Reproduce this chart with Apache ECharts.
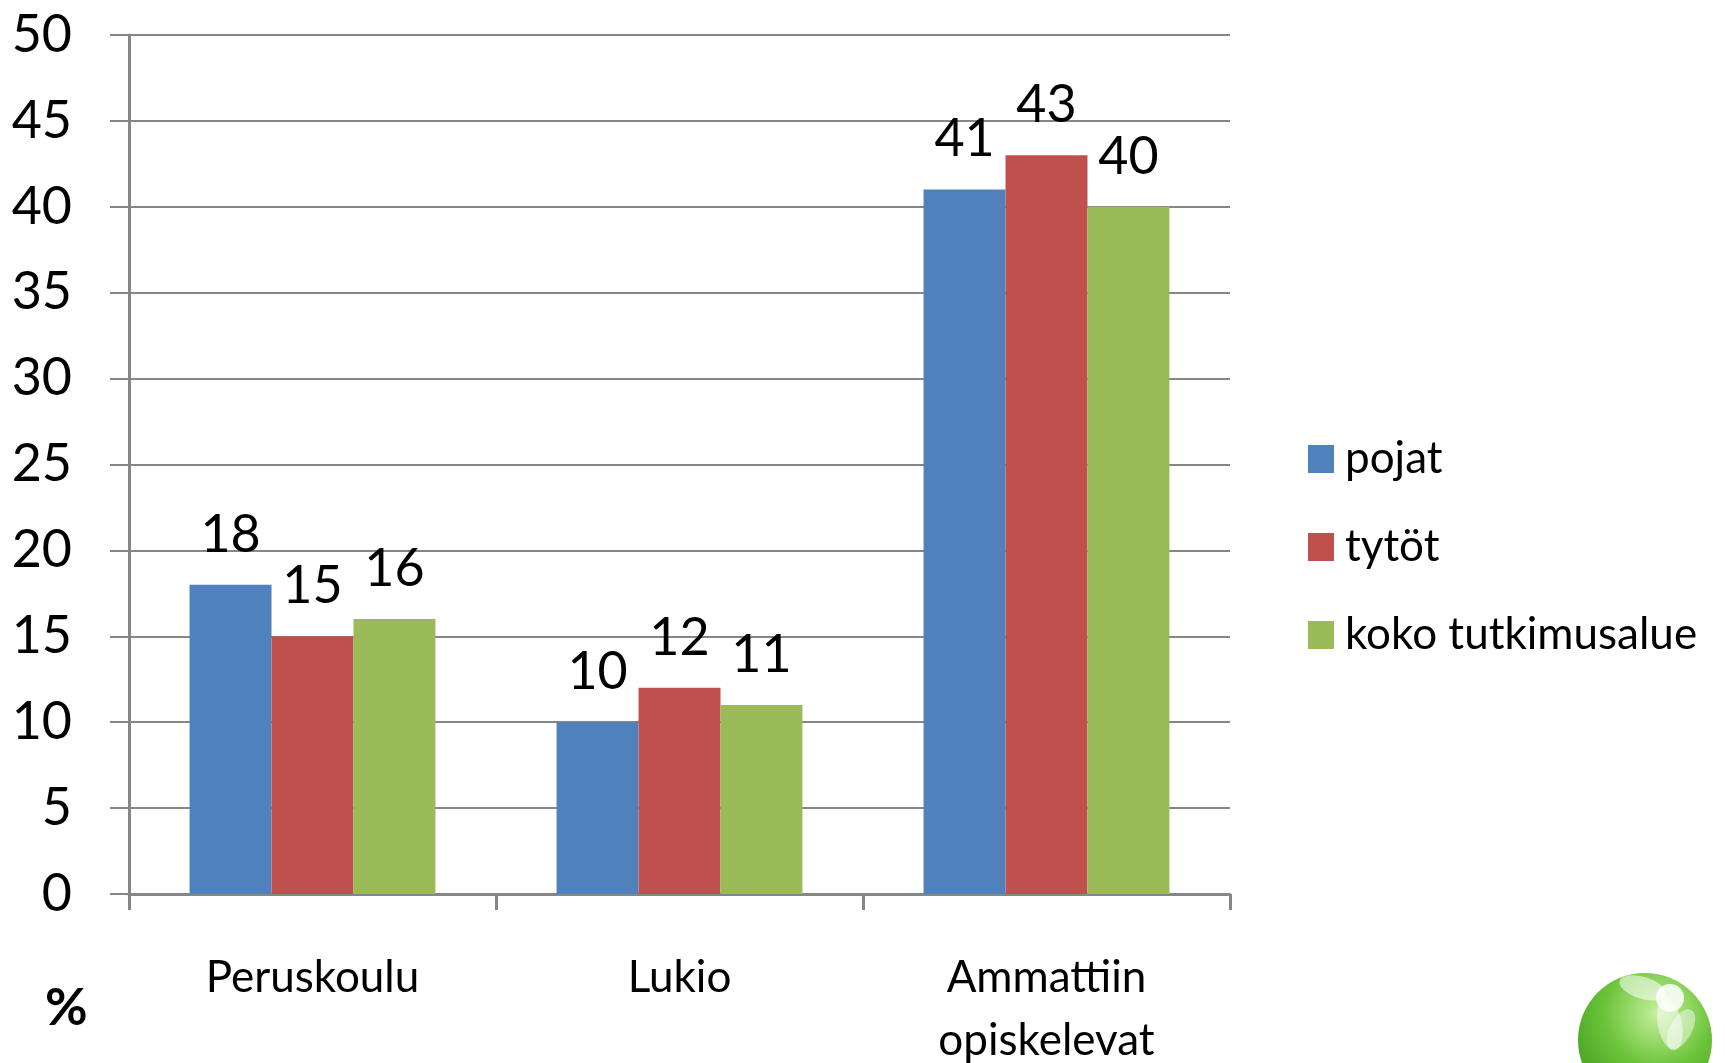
<!DOCTYPE html>
<html>
<head>
<meta charset="utf-8">
<script src="https://cdn.jsdelivr.net/npm/echarts@6/dist/echarts.min.js"></script>
<style>
html,body{margin:0;padding:0;background:#fff;}
#main{width:1725px;height:1063px;}
</style>
</head>
<body>
<div id="main"></div>
<script>
var categories = ['Peruskoulu', 'Lukio', 'Ammattiin\nopiskelevat'];
var seriesNames = ['pojat', 'tytöt', 'koko tutkimusalue'];
var pojat = [18, 10, 41];
var tytot = [15, 12, 43];
var koko = [16, 11, 40];
var yTicks = [0, 5, 10, 15, 20, 25, 30, 35, 40, 45, 50];

var colors = ['#4F81BD', '#C0504D', '#9BBB59'];
var font = 'Lato, "Open Sans", sans-serif';
var gray = '#868686';

var chart = echarts.init(document.getElementById('main'));

function bar(name, data, color) {
    return {
        name: name,
        type: 'bar',
        data: data,
        barGap: '0%',
        barCategoryGap: '33%',
        itemStyle: {color: color},
        label: {
            show: true,
            position: 'top',
            distance: 24,
            color: '#000',
            fontFamily: font,
            fontSize: 52
        }
    };
}

var option = {
    animation: false,
    color: colors,
    grid: {left: 129, right: 495, top: 35, bottom: 169, containLabel: false, outerBoundsMode: 'none'},
    legend: {
        orient: 'vertical',
        left: 1303,
        top: 432,
        itemWidth: 26,
        itemHeight: 28,
        itemGap: 44,
        icon: 'rect',
        textStyle: {fontFamily: font, fontSize: 44, color: '#000', padding: [0, 0, 0, 6]},
        data: seriesNames
    },
    xAxis: {
        type: 'category',
        data: categories,
        axisLine: {lineStyle: {color: gray, width: 3}},
        axisTick: {show: true, length: 16, lineStyle: {color: gray, width: 3}},
        axisLabel: {
            fontFamily: font,
            fontSize: 44,
            color: '#000',
            margin: 52,
            lineHeight: 63,
            interval: 0
        }
    },
    yAxis: {
        type: 'value',
        min: yTicks[0],
        max: yTicks[yTicks.length - 1],
        interval: 5,
        axisLine: {show: true, lineStyle: {color: gray, width: 3}},
        axisTick: {show: true, length: 19, lineStyle: {color: gray, width: 2}},
        splitLine: {lineStyle: {color: gray, width: 2}},
        axisLabel: {fontFamily: font, fontSize: 52, color: '#000', margin: 57}
    },
    graphic: [
        {
            type: 'text',
            left: 45,
            top: 982,
            style: {text: '%', fontFamily: font, fontSize: 52, fontWeight: 'bold', fill: '#000'}
        },
        {
            type: 'circle',
            shape: {cx: 1645, cy: 1040, r: 67},
            style: {
                fill: {
                    type: 'radial', x: 0.6, y: 0.3, r: 0.8,
                    colorStops: [
                        {offset: 0, color: '#c8f0a0'},
                        {offset: 0.5, color: '#6cc43a'},
                        {offset: 1, color: '#3f9a1e'}
                    ]
                }
            }
        },
        {
            type: 'group',
            x: 1665, y: 1000,
            children: [
                {type: 'ellipse', shape: {cx: -25, cy: -5, rx: 24, ry: 11}, rotation: -0.3, style: {fill: 'rgba(255,255,255,0.55)'}},
                {type: 'ellipse', shape: {cx: 0, cy: 25, rx: 12, ry: 26}, rotation: 0.2, style: {fill: 'rgba(255,255,255,0.5)'}},
                {type: 'ellipse', shape: {cx: 28, cy: 18, rx: 11, ry: 22}, rotation: -0.5, style: {fill: 'rgba(255,255,255,0.45)'}},
                {type: 'circle', shape: {cx: 5, cy: -2, r: 14}, style: {fill: 'rgba(255,255,255,0.85)'}}
            ]
        }
    ],
    series: [
        bar(seriesNames[0], pojat, colors[0]),
        bar(seriesNames[1], tytot, colors[1]),
        bar(seriesNames[2], koko, colors[2])
    ]
};

chart.setOption(option);
</script>
</body>
</html>
